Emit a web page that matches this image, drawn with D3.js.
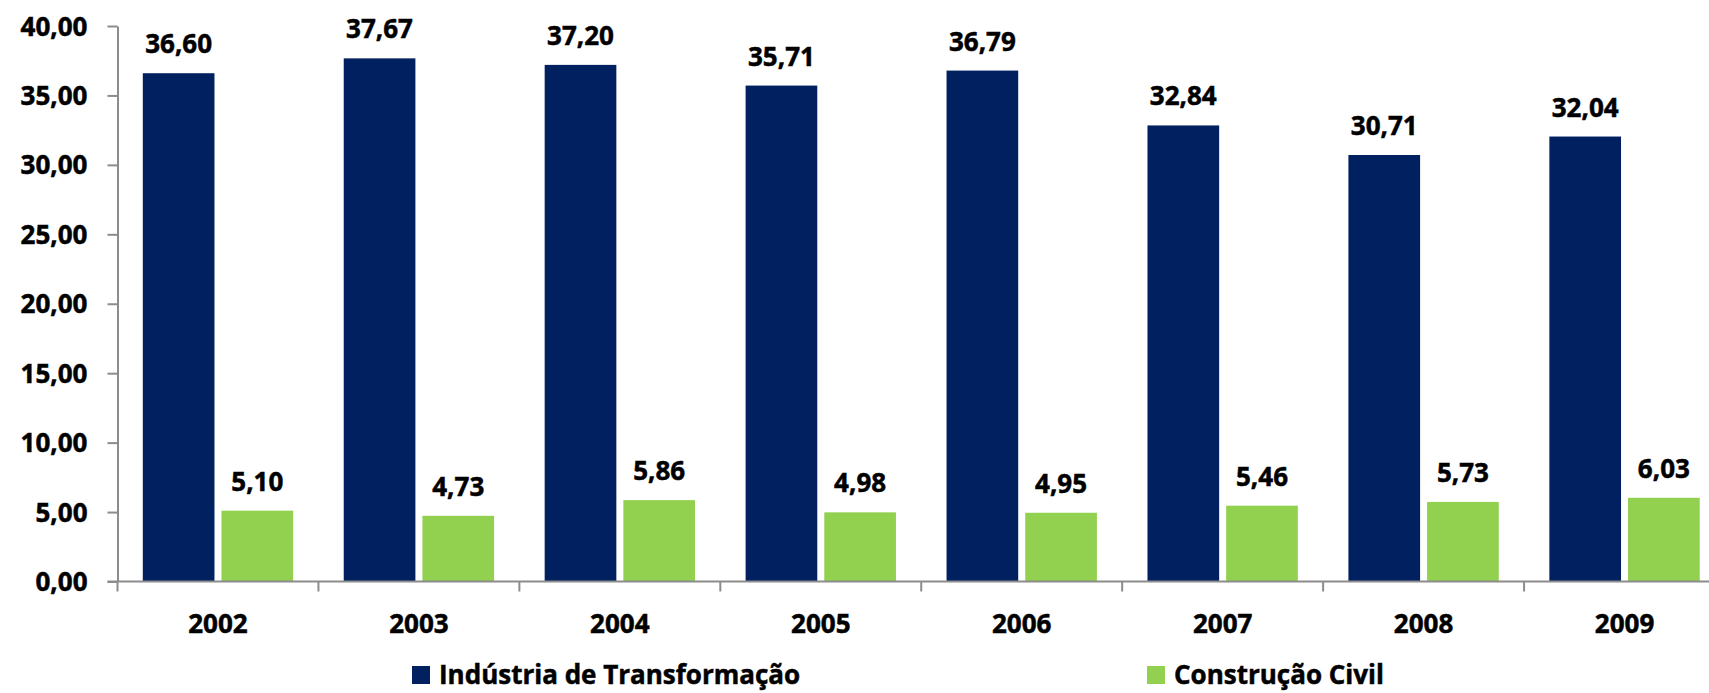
<!DOCTYPE html>
<html>
<head>
<meta charset="utf-8">
<script src="https://cdn.jsdelivr.net/npm/d3@7"></script>
<style>
  html, body { margin: 0; padding: 0; background: #fff; }
  svg { display: block; }
  text { font-family: "Open Sans", "Noto Sans", sans-serif; font-weight: 700; fill: #000; stroke: #000; stroke-width: 0.5px; }
</style>
</head>
<body>
<svg id="chart" width="1709" height="693"></svg>
<script>
// Participação por setor (%), 2002–2009
const years = ["2002", "2003", "2004", "2005", "2006", "2007", "2008", "2009"];
const seriesNames = ["Indústria de Transformação", "Construção Civil"];
const industria = [36.60, 37.67, 37.20, 35.71, 36.79, 32.84, 30.71, 32.04];
const construcao = [5.10, 4.73, 5.86, 4.98, 4.95, 5.46, 5.73, 6.03];
const yTicks = [0, 5, 10, 15, 20, 25, 30, 35, 40];
const colors = ["#002060", "#92D050"];

const svg = d3.select("#chart");
const fmt = v => d3.format(".2f")(v).replace(".", ",");

const plot = { left: 117.5, right: 1725, top: 26, bottom: 581.5 };

const x0 = d3.scaleBand().domain(years).range([plot.left, plot.right]).paddingInner(0).paddingOuter(0);
const x1 = d3.scaleBand().domain(seriesNames).range([0, x0.bandwidth()]).paddingInner(0.089).paddingOuter(0.3215);
const y = d3.scaleLinear().domain([0, 40]).range([plot.bottom, plot.top]);

const rows = years.map((yr, i) => ({ year: yr, values: [industria[i], construcao[i]] }));

// bars
const groups = svg.append("g").selectAll("g")
  .data(rows).join("g")
  .attr("transform", d => `translate(${x0(d.year)},0)`);

groups.selectAll("rect")
  .data(d => d.values.map((v, k) => ({ name: seriesNames[k], v, k })))
  .join("rect")
  .attr("x", d => x1(d.name))
  .attr("y", d => y(d.v))
  .attr("width", x1.bandwidth())
  .attr("height", d => y(0) - y(d.v))
  .attr("fill", d => colors[d.k]);

// value labels
groups.selectAll("text.val")
  .data(d => d.values.map((v, k) => ({ name: seriesNames[k], v, k })))
  .join("text")
  .attr("class", "val")
  .attr("x", d => x1(d.name) + x1.bandwidth() / 2)
  .attr("y", d => y(d.v) - 20)
  .attr("text-anchor", "middle")
  .style("font-size", "26px")
  .text(d => fmt(d.v));

// y axis
const yAxis = d3.axisLeft(y).tickValues(yTicks).tickFormat(fmt).tickSizeInner(10).tickSizeOuter(0).tickPadding(20);
const gy = svg.append("g").attr("transform", `translate(${plot.left},0)`).call(yAxis);
gy.select(".domain").attr("stroke", "#8c8c8c").attr("stroke-width", 2);
gy.selectAll(".tick line").attr("stroke", "#8c8c8c").attr("stroke-width", 2);
gy.selectAll(".tick text").style("font-size", "26px").style("font-family", null).attr("dy", "0.35em").attr("fill", "#000");

// x axis (ticks at category boundaries)
const gx = svg.append("g").attr("transform", `translate(0,${plot.bottom})`);
gx.append("line")
  .attr("x1", plot.left - 10).attr("x2", plot.right)
  .attr("stroke", "#8c8c8c").attr("stroke-width", 2);
const bounds = years.map(yr => x0(yr)).concat([plot.right]);
gx.selectAll("line.tk").data(bounds).join("line")
  .attr("class", "tk")
  .attr("x1", d => d).attr("x2", d => d)
  .attr("y1", 0).attr("y2", 10)
  .attr("stroke", "#8c8c8c").attr("stroke-width", 2);
gx.selectAll("text").data(years).join("text")
  .attr("x", d => x0(d) + x0.bandwidth() / 2)
  .attr("y", 633 - plot.bottom)
  .attr("text-anchor", "middle")
  .style("font-size", "26px")
  .text(d => d);

// legend
const legendPos = [412, 1147];
const lg = svg.append("g").selectAll("g").data(seriesNames).join("g")
  .attr("transform", (d, i) => `translate(${legendPos[i]},666)`);
lg.append("rect").attr("width", 18).attr("height", 18).attr("fill", (d, i) => colors[i]);
lg.append("text").attr("x", 27).attr("y", 18).style("font-size", "26px").text(d => d);
</script>
</body>
</html>
